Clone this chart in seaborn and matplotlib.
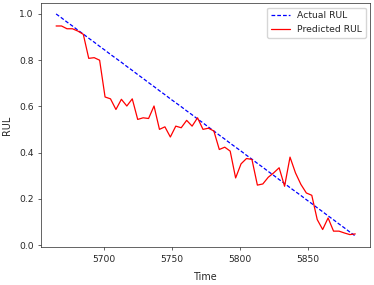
import matplotlib
matplotlib.use("Agg")
import matplotlib.pyplot as plt
import seaborn as sns

# Datos ------------------------------------------------------------------

time = [5665, 5669, 5673, 5677, 5681, 5685, 5689, 5693, 5697, 5701,
        5705, 5709, 5713, 5717, 5721, 5725, 5729, 5733, 5737, 5741,
        5745, 5749, 5753, 5757, 5761, 5765, 5769, 5773, 5777, 5781,
        5785, 5789, 5793, 5797, 5801, 5805, 5809, 5813, 5817, 5821,
        5825, 5829, 5833, 5837, 5841, 5845, 5849, 5853, 5857, 5861,
        5865, 5869, 5873, 5877, 5881, 5885]

actual_rul = [1.000, 0.983, 0.965, 0.948, 0.930, 0.913, 0.895, 0.878, 0.860, 0.843,
              0.825, 0.808, 0.791, 0.773, 0.756, 0.738, 0.721, 0.703, 0.686, 0.668,
              0.651, 0.633, 0.616, 0.599, 0.581, 0.564, 0.546, 0.529, 0.511, 0.494,
              0.476, 0.459, 0.441, 0.424, 0.407, 0.389, 0.372, 0.354, 0.337, 0.319,
              0.302, 0.284, 0.267, 0.249, 0.232, 0.215, 0.197, 0.180, 0.162, 0.145,
              0.127, 0.110, 0.092, 0.075, 0.057, 0.040]

predicted_rul = [0.948, 0.948, 0.936, 0.936, 0.926, 0.912, 0.808, 0.811, 0.800, 0.641,
                 0.633, 0.587, 0.631, 0.602, 0.633, 0.544, 0.551, 0.548, 0.602, 0.501,
                 0.512, 0.468, 0.515, 0.508, 0.540, 0.515, 0.551, 0.501, 0.506, 0.494,
                 0.414, 0.424, 0.407, 0.291, 0.352, 0.375, 0.371, 0.260, 0.265, 0.294,
                 0.313, 0.335, 0.255, 0.381, 0.313, 0.263, 0.226, 0.216, 0.111, 0.068,
                 0.118, 0.061, 0.061, 0.053, 0.046, 0.049]

# Gráfico ----------------------------------------------------------------

sns.set_style("ticks")
plt.rcParams['font.family'] = ['DejaVu Sans']
plt.rcParams['font.size'] = 6.7

fig, ax = plt.subplots(figsize=(3.74, 2.85), dpi=100)
fig.subplots_adjust(left=0.11, right=0.99, bottom=0.133, top=0.99)

sns.lineplot(x=time, y=actual_rul, color='blue', linestyle=(0, (3, 1.6)),
             linewidth=0.9, label='Actual RUL', ax=ax)
sns.lineplot(x=time, y=predicted_rul, color='red',
             linewidth=0.9, label='Predicted RUL', ax=ax)

ax.set_xlabel('Time', fontsize=6.9, labelpad=6)
ax.set_ylabel('RUL', fontsize=6.9, labelpad=5)
ax.set_yticks([0.0, 0.2, 0.4, 0.6, 0.8, 1.0])
ax.set_xticks([5700, 5750, 5800, 5850])
ax.tick_params(labelsize=6.6, length=2, width=0.5)
for s in ax.spines.values():
    s.set_linewidth(0.5)
ax.legend(loc='upper right', fontsize=6.7, frameon=True, fancybox=True)

plt.savefig('out.png', dpi=100)
